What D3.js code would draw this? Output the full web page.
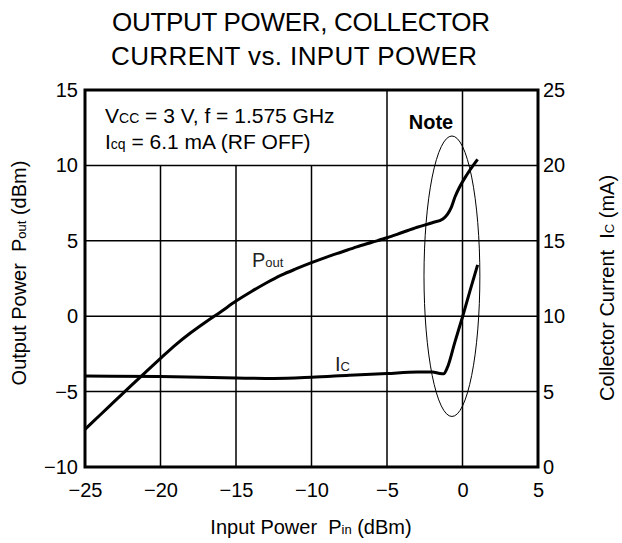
<!DOCTYPE html>
<html>
<head>
<meta charset="utf-8">
<script src="https://cdn.jsdelivr.net/npm/d3@7"></script>
<style>
  body { margin: 0; background: #fff; }
  svg { font-family: "Liberation Sans", Arial, sans-serif; }
  text { white-space: pre; }
</style>
</head>
<body>
<div id="chart"></div>
<script>
// =================================== DATA ===================================

// Output power (dBm) vs input power (dBm)
const poutPin = [-25, -24, -23, -22, -21, -20, -19, -18, -17, -16, -15, -14, -13, -12, -11, -10,
  -9, -8, -7, -6, -5, -4, -3, -2, -1.3, -1.0, -0.75, -0.5, -0.2, 0.3, 1.0]
const poutVal = [-7.5, -6.55, -5.6, -4.65, -3.72, -2.8, -1.9, -1.1, -0.38, 0.3, 1.0, 1.62, 2.2, 2.72, 3.15, 3.55,
  3.92, 4.26, 4.6, 4.9, 5.2, 5.55, 5.9, 6.2, 6.45, 6.75, 7.2, 7.9, 8.55, 9.4, 10.4]

// Collector current (mA) vs input power (dBm)
const icPin = [-25, -20, -15, -12.5, -10, -7.5, -5, -3, -2, -1.5, -1.25, -1.0, -0.5, 0, 0.5, 1.0]
const icVal = [6.03, 6.0, 5.9, 5.87, 5.95, 6.08, 6.2, 6.3, 6.3, 6.2, 6.18, 6.6, 8.3, 9.95, 11.7, 13.4]

const xTicks = [-25, -20, -15, -10, -5, 0, 5]
const yLeftTicks = [-10, -5, 0, 5, 10, 15]
const yRightTicks = [0, 5, 10, 15, 20, 25]

// "Note" ellipse: center / radii in data units (dBm)
const note = { cx: -0.7, cy: 2.65, rx: 1.85, ry: 9.3 }

// =================================== SETTINGS ===================================

const width = 622
const height = 543
const margin = { top: 90, right: 84, bottom: 76, left: 85 }
let fs = 20   // main text size
let sub = 13  // subscript size

const svg = d3.select('#chart').append('svg')
  .attr('width', width)
  .attr('height', height)

const x = d3.scaleLinear().domain([-25, 5]).range([margin.left, width - margin.right])
const yL = d3.scaleLinear().domain([-10, 15]).range([height - margin.bottom, margin.top])
const yR = d3.scaleLinear().domain([0, 25]).range([height - margin.bottom, margin.top])

// text with a small subscript part: parts = [[text, isSub], ...]
function label (g, parts) {
  parts.forEach(function (p) {
    g.append('tspan').attr('font-size', p[1] ? sub : fs).text(p[0])
  })
  return g
}

// =================================== TITLE ===================================

svg.append('text').attr('x', 112).attr('y', 31)
  .attr('font-size', 26).attr('textLength', 378).text('OUTPUT POWER, COLLECTOR')
svg.append('text').attr('x', 111).attr('y', 65)
  .attr('font-size', 26).attr('textLength', 366).text('CURRENT vs. INPUT POWER')

// =================================== GRID ===================================

const grid = svg.append('g').attr('stroke', '#000').attr('stroke-width', 1.5)

xTicks.slice(1, -1).forEach(function (t) {
  // the left three lines stop under the condition box
  const top = t < -5 ? yL(10) : yL(15)
  grid.append('line')
    .attr('x1', x(t)).attr('x2', x(t))
    .attr('y1', top).attr('y2', yL(-10))
})
yLeftTicks.slice(1, -1).forEach(function (t) {
  grid.append('line')
    .attr('x1', x(-25)).attr('x2', x(5))
    .attr('y1', yL(t)).attr('y2', yL(t))
})

// =================================== AXES ===================================

const xAxis = svg.append('g')
  .attr('transform', `translate(0,${yL(-10)})`)
  .call(d3.axisBottom(x).tickValues(xTicks).tickSize(0).tickPadding(16))
const leftAxis = svg.append('g')
  .attr('transform', `translate(${x(-25)},0)`)
  .call(d3.axisLeft(yL).tickValues(yLeftTicks).tickSize(0).tickPadding(7))
const rightAxis = svg.append('g')
  .attr('transform', `translate(${x(5)},0)`)
  .call(d3.axisRight(yR).tickValues(yRightTicks).tickSize(0).tickPadding(5))

;[xAxis, leftAxis, rightAxis].forEach(function (a) {
  a.select('.domain').remove()
  a.selectAll('text').attr('font-size', fs).attr('fill', '#000')
    .style('font-family', '"Liberation Sans", Arial, sans-serif')
})

// frame
svg.append('rect')
  .attr('x', x(-25)).attr('y', yL(15))
  .attr('width', x(5) - x(-25)).attr('height', yL(-10) - yL(15))
  .attr('fill', 'none').attr('stroke', '#000').attr('stroke-width', 3)

// =================================== AXIS TITLES ===================================

label(svg.append('text').attr('x', 311).attr('y', 534).attr('text-anchor', 'middle'),
  [['Input Power  P', 0], ['in', 1], [' (dBm)', 0]])

label(svg.append('text').attr('transform', 'translate(26,273) rotate(-90)').attr('text-anchor', 'middle'),
  [['Output Power  P', 0], ['out', 1], [' (dBm)', 0]])

label(svg.append('text').attr('transform', 'translate(614,288) rotate(-90)').attr('text-anchor', 'middle'),
  [['Collector Current  I', 0], ['C', 1], [' (mA)', 0]])

// =================================== CONDITIONS ===================================

fs = 21; sub = 14
label(svg.append('text').attr('x', 105).attr('y', 123),
  [['V', 0], ['CC', 1], [' = 3 V, f = 1.575 GHz', 0]])

label(svg.append('text').attr('x', 105).attr('y', 149),
  [['I', 0], ['cq', 1], [' = 6.1 mA (RF OFF)', 0]])
fs = 20; sub = 13

// =================================== CURVES ===================================

const pout = poutPin.map((p, i) => [p, poutVal[i]])
const ic = icPin.map((p, i) => [p, icVal[i]])

svg.append('path')
  .datum(pout)
  .attr('fill', 'none').attr('stroke', '#000').attr('stroke-width', 3)
  .attr('d', d3.line().x(d => x(d[0])).y(d => yL(d[1])).curve(d3.curveMonotoneX))

svg.append('path')
  .datum(ic)
  .attr('fill', 'none').attr('stroke', '#000').attr('stroke-width', 3)
  .attr('d', d3.line().x(d => x(d[0])).y(d => yR(d[1])).curve(d3.curveMonotoneX))

label(svg.append('text').attr('x', 252).attr('y', 267).attr('fill', '#222'),
  [['P', 0], ['out', 1]])

label(svg.append('text').attr('x', 335).attr('y', 371).attr('fill', '#222'),
  [['I', 0], ['C', 1]])

// =================================== NOTE ===================================

svg.append('ellipse')
  .attr('cx', x(note.cx)).attr('cy', yL(note.cy))
  .attr('rx', x(note.cx + note.rx) - x(note.cx))
  .attr('ry', yL(note.cy) - yL(note.cy + note.ry))
  .attr('fill', 'none').attr('stroke', '#000').attr('stroke-width', 1)

svg.append('text').attr('x', 431).attr('y', 129)
  .attr('text-anchor', 'middle').attr('font-size', 20).attr('font-weight', 'bold')
  .text('Note')
</script>
</body>
</html>
